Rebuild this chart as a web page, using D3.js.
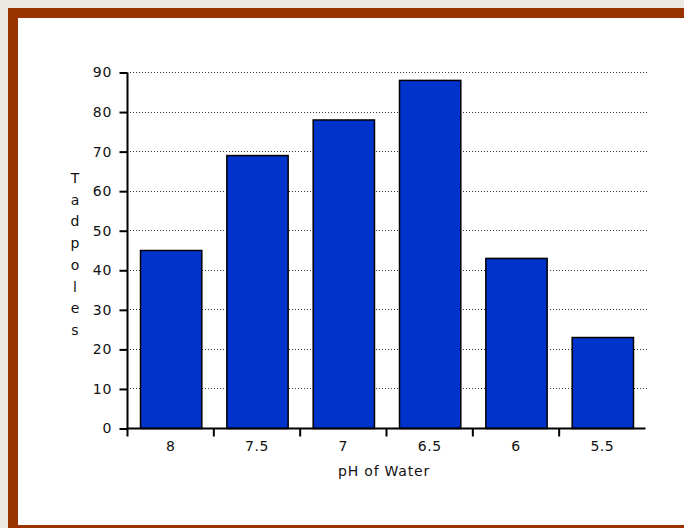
<!DOCTYPE html>
<html><head><meta charset="utf-8">
<script src="https://cdn.jsdelivr.net/npm/d3@7"></script>
<style>html,body{margin:0;padding:0;background:#ece8e4;}</style>
</head><body>
<svg id="c" width="684" height="528"></svg>
<script>
const categories = ["8","7.5","7","6.5","6","5.5"];
const tadpoles = [45,69,78,88,43,23];
const yTicks = [0,10,20,30,40,50,60,70,80,90];
const yLabel = "Tadpoles";
const xLabel = "pH of Water";

const svg = d3.select("#c");
const font = "'DejaVu Sans', Verdana, sans-serif";
const fs = 14;
// frame
svg.append("rect").attr("x",8).attr("y",8).attr("width",684).attr("height",528).attr("fill","#993300");
svg.append("rect").attr("x",18).attr("y",18).attr("width",684).attr("height",507).attr("fill","#ffffff");

const x0 = 127.5, x1 = 645.5, yTop = 72.5, yBot = 428.5;
const x = d3.scaleBand().domain(categories).range([x0,x1]).paddingInner(0.29).paddingOuter(0.145);
const xb = d3.scaleBand().domain(categories).range([x0,x1]);
const y = d3.scaleLinear().domain([0,90]).range([yBot,yTop]);
const ySnap = d => Math.round(y(d) - 0.5) + 0.5;

// gridlines
svg.append("g").selectAll("line").data(yTicks.filter(d=>d>0)).join("line")
  .attr("x1",x0+2).attr("x2",648).attr("y1",ySnap).attr("y2",ySnap)
  .attr("stroke","#333").attr("stroke-width",1).attr("stroke-dasharray","1,2")
  .attr("shape-rendering","crispEdges");

// bars
svg.append("g").selectAll("rect").data(tadpoles).join("rect")
  .attr("x",(d,i)=>x(categories[i])+0.5)
  .attr("y",d=>y(d))
  .attr("width",x.bandwidth())
  .attr("height",d=>yBot-y(d))
  .attr("fill","#0033cc").attr("stroke","#000").attr("stroke-width",1.5);

// y axis
const ya = svg.append("g").attr("transform",`translate(${x0},0)`)
  .call(d3.axisLeft(y).tickValues(yTicks).tickSize(8).tickPadding(7));
ya.select(".domain").attr("stroke","#000").attr("stroke-width",2).attr("d",`M0,${yTop}V${yBot}`);
ya.selectAll(".tick line").attr("stroke","#000").attr("stroke-width",2);
ya.selectAll("text").attr("font-family",font).attr("font-size",fs).attr("letter-spacing","1px").attr("fill","#111");

// x axis
svg.append("line").attr("x1",x0-1).attr("x2",x1).attr("y1",yBot).attr("y2",yBot).attr("stroke","#000").attr("stroke-width",2);
svg.append("g").selectAll("line").data(categories).join("line")
  .attr("x1",d=>xb(d)).attr("x2",d=>xb(d)).attr("y1",yBot).attr("y2",yBot+8)
  .attr("stroke","#000").attr("stroke-width",2);
svg.append("g").selectAll("text").data(categories).join("text")
  .attr("x",d=>xb(d)+xb.bandwidth()/2).attr("y",451)
  .attr("text-anchor","middle").attr("font-family",font).attr("font-size",fs).attr("letter-spacing","0.5px").attr("fill","#111")
  .text(d=>d);

svg.append("text").attr("x",384).attr("y",476).attr("text-anchor","middle")
  .attr("font-family",font).attr("font-size",fs).attr("letter-spacing","0.8px").attr("fill","#111").text(xLabel);

svg.append("g").selectAll("text").data(yLabel.split("")).join("text")
  .attr("x",75).attr("y",(d,i)=>183+i*21.7).attr("text-anchor","middle")
  .attr("font-family",font).attr("font-size",fs).attr("fill","#111").text(d=>d);
</script>
</body></html>
